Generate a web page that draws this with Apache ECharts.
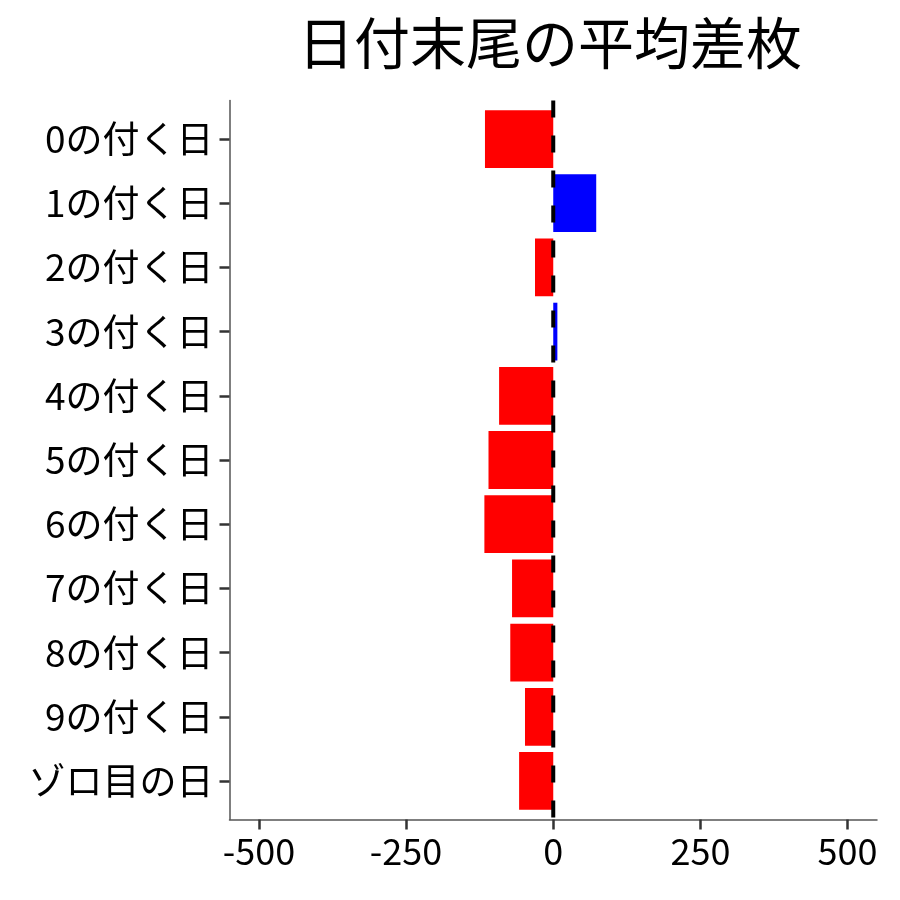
<!DOCTYPE html>
<html><head><meta charset="utf-8">
<script src="https://cdn.jsdelivr.net/npm/echarts@6/dist/echarts.min.js"></script>
<style>html,body{margin:0;padding:0;background:#fff}#c{width:900px;height:900px}</style>
</head><body><div id="c"></div>
<script>
const categories = ['0の付く日','1の付く日','2の付く日','3の付く日','4の付く日','5の付く日','6の付く日','7の付く日','8の付く日','9の付く日','ゾロ目の日'];
const values = [-116, 73, -31, 7, -92, -110, -117, -70, -73, -48, -58];
const xTicks = [-500, -250, 0, 250, 500];
const yTicks = [0,1,2,3,4,5,6,7,8,9,10];
const titleText = '日付末尾の平均差枚';

const font = '"Noto Sans CJK JP", "Noto Sans", sans-serif';
const chart = echarts.init(document.getElementById('c'));
chart.setOption({
  animation: false,
  backgroundColor: '#fff',
  title: {
    text: titleText, left: 545, top: 10, textAlign: 'center',
    textStyle: { fontFamily: font, fontSize: 56, fontWeight: 'normal', color: '#000' }
  },
  grid: { left: 229.5, right: 23, top: 100.5, bottom: 80.5 },
  xAxis: {
    type: 'value', min: -550, max: 550,
    axisLine: { show: true, onZero: false, lineStyle: { color: '#555', width: 1.5 } },
    axisTick: { show: true, customValues: xTicks, length: 10, lineStyle: { color: '#333', width: 2.5 } },
    axisLabel: { customValues: xTicks, fontFamily: font, fontSize: 36, color: '#000', margin: 14 },
    splitLine: { show: false }
  },
  yAxis: {
    type: 'value', inverse: true, min: -0.6, max: 10.6,
    axisLine: { show: true, onZero: false, lineStyle: { color: '#555', width: 1.5 } },
    axisTick: { show: true, customValues: yTicks, length: 10, lineStyle: { color: '#333', width: 2.5 } },
    axisLabel: { customValues: yTicks, fontFamily: font, fontSize: 37, color: '#000', margin: 16,
      formatter: v => categories[Math.round(v)] },
    splitLine: { show: false }
  },
  series: [{
    type: 'custom',
    data: values.map((v, i) => [v, i]),
    encode: { x: 0, y: 1 },
    renderItem: (params, api) => {
      const v = api.value(0), i = api.value(1);
      const p0 = api.coord([0, i]), p1 = api.coord([v, i]);
      const h = api.size([0, 0.9])[1];
      return { type: 'rect',
        shape: { x: Math.min(p0[0], p1[0]), y: p0[1] - h / 2, width: Math.abs(p1[0] - p0[0]), height: h },
        style: { fill: v < 0 ? '#FF0000' : '#0000FF' } };
    },
    z: 2
  }, {
    type: 'line',
    data: [[0, -0.6], [0, 10.6]],
    symbol: 'none',
    lineStyle: { color: '#000', width: 4, type: [17, 18] },
    z: 3
  }]
});
</script></body></html>
